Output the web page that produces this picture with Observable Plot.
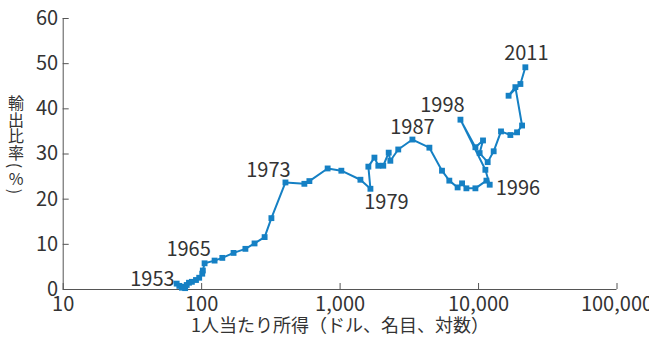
<!DOCTYPE html>
<html><head><meta charset="utf-8">
<script src="https://cdn.jsdelivr.net/npm/d3@7"></script>
<script src="https://cdn.jsdelivr.net/npm/@observablehq/plot@0.6"></script>
<style>
body{margin:0;background:#fff;}
#chart{position:relative;width:649px;height:337px;}
#ylabel{position:absolute;left:7px;top:94px;width:18px;display:flex;flex-direction:column;align-items:center;font-family:"Noto Sans CJK JP","Noto Sans",sans-serif;font-size:16px;color:#333;}
#ylabel span{display:block;height:16.5px;line-height:16.5px;text-align:center;}
#ylabel span.rot{height:11px;line-height:11px;transform:rotate(90deg);}
#ylabel span.pct{height:15px;line-height:15px;}
</style>
</head><body><div id="chart"></div>
<script>
const years = [1953,1954,1955,1956,1957,1958,1959,1960,1961,1962,1963,1964,1965,1966,1967,1968,1969,1970,1971,1972,1973,1974,1975,1976,1977,1978,1979,1980,1981,1982,1983,1984,1985,1986,1987,1988,1989,1990,1991,1992,1993,1994,1995,1996,1997,1998,1999,2000,2001,2002,2003,2004,2005,2006,2007,2008,2009,2010,2011];
const income = [66,69,72,76,74,78,81,85,91,96,101,102,105,124,141,170,207,241,285,319,403,552,600,813,1021,1402,1656,1600,1770,1888,2050,2244,2306,2630,3330,4415,5445,6150,7060,7600,8170,9490,11400,12040,11200,7400,9490,10770,10180,11640,12860,14530,16980,18970,20620,18450,16480,20060,21780];
const exportRatio = [1.3,0.8,0.4,0.3,0.6,1.0,1.5,1.7,2.1,2.6,3.5,4.2,5.8,6.4,7.0,8.1,9.0,10.2,11.6,15.8,23.7,23.4,24.0,26.8,26.3,24.3,22.3,27.2,29.2,27.4,27.4,30.3,28.5,31.0,33.2,31.4,26.3,24.1,22.6,23.5,22.4,22.4,24.1,23.2,26.5,37.6,31.5,33.0,30.2,28.2,30.6,35.0,34.2,34.8,36.3,44.8,42.9,45.5,49.2];
const labelYears = [1953,1965,1973,1979,1987,1996,1998,2011];
const xTicks = [10,100,1000,10000,100000];
const yTicks = [0,10,20,30,40,50,60];
const xLabel = "1人当たり所得（ドル、名目、対数）";
const yLabel = "輸出比率(%)";

// label placement styles (offsets in px)
const labelStyle = {
  1953: {dx: -2, dy: -4, anchor: "end"},
  1965: {dx: -16, dy: -14, anchor: "middle"},
  1973: {dx: -17, dy: -12, anchor: "middle"},
  1979: {dx: 16, dy: 14, anchor: "middle"},
  1987: {dx: 0, dy: -12, anchor: "middle"},
  1996: {dx: 6, dy: 4, anchor: "start"},
  1998: {dx: -18, dy: -14, anchor: "middle"},
  2011: {dx: 1, dy: -14, anchor: "middle"}
};

const data = years.map((year, i) => ({year, income: income[i], ratio: exportRatio[i]}));
const font = '"Noto Sans CJK JP", "Noto Sans", sans-serif';
const color = "#1580c4";
const ink = "#333";

const labelMarks = labelYears.map(y => {
  const d = data.filter(p => p.year === y);
  const s = labelStyle[y];
  return Plot.text(d, {x: "income", y: "ratio", text: p => String(p.year), dx: s.dx, dy: s.dy, textAnchor: s.anchor, fill: ink, fontSize: 20});
});

const plot = Plot.plot({
  width: 649, height: 337,
  marginTop: 18, marginLeft: 62.7, marginRight: 32.5, marginBottom: 48,
  style: {fontFamily: font, fontSize: "20px", color: ink, background: "#fff", overflow: "visible"},
  x: {type: "log", domain: [xTicks[0], xTicks[xTicks.length - 1]]},
  y: {domain: [yTicks[0], yTicks[yTicks.length - 1]]},
  marks: [
    Plot.axisY({ticks: yTicks, tickSize: -6, tickPadding: 11, label: null, stroke: "#555", fontSize: 20}),
    Plot.axisX({ticks: xTicks, tickSize: -6, tickPadding: 13, tickFormat: d3.format(","), label: null, stroke: "#555", fontSize: 20}),
    Plot.ruleX([xTicks[0]], {stroke: "#555"}),
    Plot.ruleY([yTicks[0]], {stroke: "#555"}),
    Plot.line(data, {x: "income", y: "ratio", stroke: color, strokeWidth: 2}),
    Plot.dot(data, {x: "income", y: "ratio", symbol: "square", fill: color, r: 3.3}),
    ...labelMarks,
    Plot.text([xLabel], {frameAnchor: "bottom", dy: 42, fontSize: 18, fill: ink})
  ]
});

const chart = document.getElementById("chart");
chart.appendChild(plot);
const yl = document.createElement("div");
yl.id = "ylabel";
for (const ch of yLabel) {
  const sp = document.createElement("span");
  sp.textContent = ch;
  if (ch === "(" || ch === ")") sp.className = "rot";
  else if (ch === "%") sp.className = "pct";
  yl.appendChild(sp);
}
chart.appendChild(yl);
</script>
</body></html>
